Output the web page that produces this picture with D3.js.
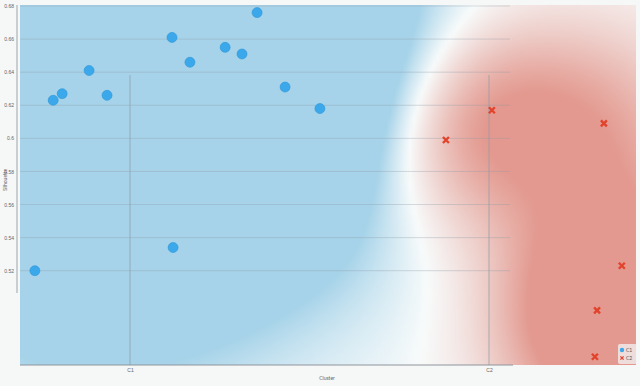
<!DOCTYPE html>
<html>
<head>
<meta charset="utf-8">
<script src="https://cdn.jsdelivr.net/npm/d3@7.9.0/dist/d3.min.js"></script>
<style>
  html, body { margin: 0; padding: 0; background: #f6f7f7; }
  svg { display: block; font-family: "Lato", "DejaVu Sans", sans-serif; }
</style>
</head>
<body>
<div id="chart"></div>
<script>
// categories and tick labels
const clusters = ["C1", "C2"];
const yTicks = [0.52, 0.54, 0.56, 0.58, 0.6, 0.62, 0.64, 0.66, 0.68];

// C1 points: jitter offset from category (in category steps), silhouette value
const c1Jitter = [-0.265, -0.214, -0.189, -0.114, -0.064, 0.117, 0.167, 0.120, 0.265, 0.312, 0.354, 0.432, 0.529];
const c1Silhouette = [0.520, 0.623, 0.627, 0.641, 0.626, 0.661, 0.646, 0.534, 0.655, 0.651, 0.676, 0.631, 0.618];

// C2 points
const c2Jitter = [-0.120, 0.008, 0.320, 0.370, 0.301, 0.295];
const c2Silhouette = [0.599, 0.617, 0.609, 0.523, 0.496, 0.468];

const W = 640, H = 386;
const plot = { left: 20, right: 636, top: 5, bottom: 365 };

const svg = d3.select("#chart").append("svg")
  .attr("width", W)
  .attr("height", H);

// scales
const xCat = d3.scalePoint().domain(clusters).range([130, 489]);
const y = d3.scaleLinear().domain([0.463, 0.68]).range([plot.bottom, 6]);
const xPos = (c, j) => xCat(c) + j * xCat.step();

const pts = [
  ...c1Jitter.map((j, i) => ({ cluster: "C1", px: xPos("C1", j), py: y(c1Silhouette[i]) })),
  ...c2Jitter.map((j, i) => ({ cluster: "C2", px: xPos("C2", j), py: y(c2Silhouette[i]) }))
];

// background: smoothed class field, rendered to a low-res canvas and stretched
const blue = d3.rgb("#a6d3e9"), red = d3.rgb("#e3998f"), white = d3.rgb("#f8fbfb");
const toBlue = d3.interpolateRgb(white, blue), toRed = d3.interpolateRgb(white, red);
const cell = 4;
const cw = Math.ceil((plot.right - plot.left) / cell), ch = Math.ceil((plot.bottom - plot.top) / cell);
const canvas = document.createElement("canvas");
canvas.width = cw; canvas.height = ch;
const ctx = canvas.getContext("2d");
const img = ctx.createImageData(cw, ch);
const s1 = 115, s2 = 74, w2 = 1.55;
for (let j = 0; j < ch; j++) {
  for (let i = 0; i < cw; i++) {
    const X = plot.left + (i + 0.5) * cell, Y = plot.top + (j + 0.5) * cell;
    let v = 0;
    pts.forEach(p => {
      const d2 = (X - p.px) ** 2 + (Y - p.py) ** 2;
      if (p.cluster === "C1") v += Math.exp(-d2 / (2 * s1 * s1));
      else v -= w2 * Math.exp(-d2 / (2 * s2 * s2));
    });
    const t = v >= 0 ? Math.min(1, v * 0.75) : -Math.min(1, -v * 0.4);
    const c = d3.rgb(t >= 0 ? toBlue(t) : toRed(-t));
    const k = (j * cw + i) * 4;
    img.data[k] = c.r; img.data[k + 1] = c.g; img.data[k + 2] = c.b; img.data[k + 3] = 255;
  }
}
ctx.putImageData(img, 0, 0);

svg.append("image")
  .attr("x", plot.left)
  .attr("y", plot.top)
  .attr("width", plot.right - plot.left)
  .attr("height", plot.bottom - plot.top)
  .attr("preserveAspectRatio", "none")
  .attr("href", canvas.toDataURL());

// horizontal grid
svg.append("g")
  .selectAll("line")
  .data(yTicks)
  .join("line")
    .attr("x1", plot.left)
    .attr("x2", 510)
    .attr("y1", d => y(d))
    .attr("y2", d => y(d))
    .attr("stroke", "#8e9aa6")
    .attr("stroke-opacity", 0.35)
    .attr("stroke-width", 1);

// vertical category lines
svg.append("g")
  .selectAll("line")
  .data(clusters)
  .join("line")
    .attr("x1", d => xCat(d))
    .attr("x2", d => xCat(d))
    .attr("y1", 75)
    .attr("y2", plot.bottom)
    .attr("stroke", "#8e9aa6")
    .attr("stroke-opacity", 0.7);

// y axis
const yAxis = svg.append("g")
  .attr("transform", `translate(${plot.left - 3},0)`)
  .call(d3.axisLeft(y).tickValues(yTicks).tickSize(0).tickPadding(3)
    .tickFormat(d => String(+d.toFixed(2))));
yAxis.select(".domain").remove();
yAxis.append("line")
  .attr("x1", 0).attr("x2", 0)
  .attr("y1", plot.top).attr("y2", 293)
  .attr("stroke", "#a0a4a8");
yAxis.selectAll("text").attr("font-size", 5).attr("fill", "#666");

// x axis
const xAxis = svg.append("g")
  .attr("transform", `translate(0,${plot.bottom})`)
  .call(d3.axisBottom(xCat).tickSize(0).tickPadding(3));
xAxis.select(".domain").remove();
xAxis.append("line")
  .attr("x1", plot.left).attr("x2", 513)
  .attr("stroke", "#8e959c");
xAxis.selectAll("text").attr("font-size", 5).attr("fill", "#666");

// axis titles
svg.append("text")
  .attr("transform", "translate(7,180) rotate(-90)")
  .attr("text-anchor", "middle")
  .attr("font-size", 5)
  .attr("fill", "#666")
  .text("Silhouette");

svg.append("text")
  .attr("x", 327)
  .attr("y", 380)
  .attr("text-anchor", "middle")
  .attr("font-size", 5)
  .attr("fill", "#666")
  .text("Cluster");

// points
const blueFill = "#3aa8ea", redMark = "#e2432c";
svg.append("g")
  .selectAll("circle")
  .data(pts.filter(p => p.cluster === "C1"))
  .join("circle")
    .attr("cx", d => d.px)
    .attr("cy", d => d.py)
    .attr("r", 5)
    .attr("fill", blueFill)
    .attr("stroke", "#2f96d6")
    .attr("stroke-width", 0.6);

const cross = (g, s) => g.append("path")
  .attr("d", `M${-s},${-s}L${s},${s}M${-s},${s}L${s},${-s}`)
  .attr("stroke", redMark)
  .attr("stroke-width", 2.4)
  .attr("stroke-linecap", "butt");

svg.append("g")
  .selectAll("g")
  .data(pts.filter(p => p.cluster === "C2"))
  .join("g")
    .attr("transform", d => `translate(${d.px},${d.py})`)
    .each(function() { cross(d3.select(this), 3); });

// legend
const legend = svg.append("g").attr("transform", "translate(618,344)");
legend.append("rect")
  .attr("width", 19).attr("height", 20)
  .attr("rx", 2)
  .attr("fill", "#f3f4f6").attr("fill-opacity", 0.75);
const items = legend.selectAll("g.item")
  .data(clusters)
  .join("g")
    .attr("class", "item")
    .attr("transform", (d, i) => `translate(4,${6 + i * 8})`);
items.filter(d => d === "C1").append("circle")
  .attr("r", 2.2).attr("fill", blueFill);
items.filter(d => d === "C2").each(function() {
  cross(d3.select(this), 1.6).attr("stroke-width", 1.3);
});
items.append("text")
  .attr("x", 4).attr("y", 1.8)
  .attr("font-size", 5)
  .attr("fill", "#555")
  .text(d => d);
</script>
</body>
</html>
